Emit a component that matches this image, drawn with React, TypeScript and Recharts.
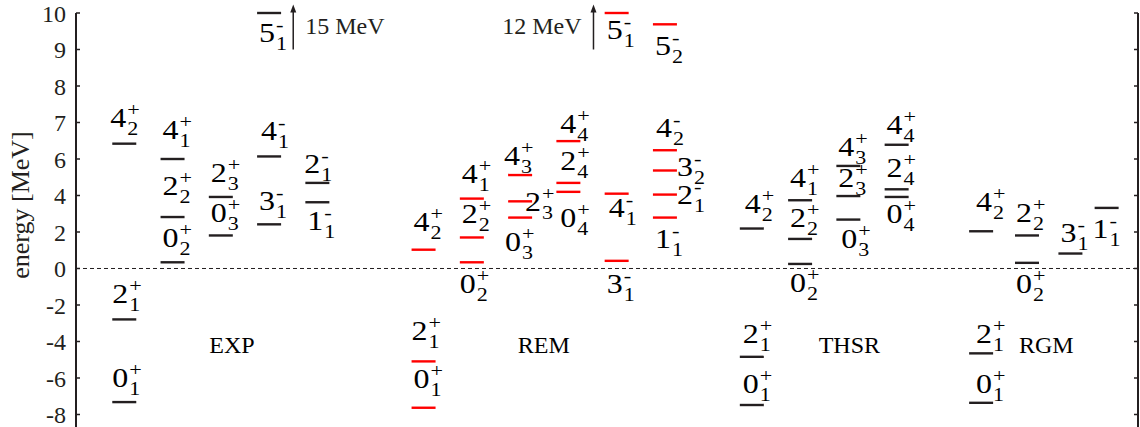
import { ScatterChart, Scatter, XAxis, YAxis, ReferenceLine } from "recharts";

// level tuples: [column index, energy (MeV), spin, index, parity]
type LevelRow = [number, number, string, string, string];

// broken energy axis: 1 MeV per tick above 6 MeV, 2 MeV per tick below
const energyTicks = [10, 9, 8, 7, 6, 4, 2, 0, -2, -4, -6, -8];
const axisTop = 10;

const expColumns = [1, 2, 3, 4, 5];
const expLevels: LevelRow[] = [
  [0, 6.42, "4", "2", "+"],
  [0, -2.79, "2", "1", "+"],
  [0, -7.32, "0", "1", "+"],
  [1, 6.0, "4", "1", "+"],
  [1, 2.82, "2", "2", "+"],
  [1, 0.34, "0", "2", "+"],
  [2, 3.92, "2", "3", "+"],
  [2, 1.81, "0", "3", "+"],
  [3, 15, "5", "1", "-"],
  [3, 6.07, "4", "1", "-"],
  [3, 2.42, "3", "1", "-"],
  [4, 4.69, "2", "1", "-"],
  [4, 3.63, "1", "1", "-"],
];

const remColumns = [7.2, 8.2, 9.2, 10.2, 11.2, 12.2];
const remLevels: LevelRow[] = [
  [0, 1.03, "4", "2", "+"],
  [0, -5.09, "2", "1", "+"],
  [0, -7.63, "0", "1", "+"],
  [1, 3.83, "4", "1", "+"],
  [1, 1.7, "2", "2", "+"],
  [1, 0.34, "0", "2", "+"],
  [2, 5.12, "4", "3", "+"],
  [2, 3.68, "2", "3", "+"],
  [2, 2.79, "0", "3", "+"],
  [3, 6.49, "4", "4", "+"],
  [3, 4.69, "2", "4", "+"],
  [3, 4.2, "0", "4", "+"],
  [4, 12, "5", "1", "-"],
  [4, 4.1, "4", "1", "-"],
  [4, 0.42, "3", "1", "-"],
  [5, 9.69, "5", "2", "-"],
  [5, 6.24, "4", "2", "-"],
  [5, 5.37, "3", "2", "-"],
  [5, 4.05, "2", "1", "-"],
  [5, 2.79, "1", "1", "-"],
];

const thsrColumns = [14, 15, 16, 17];
const thsrLevels: LevelRow[] = [
  [0, 2.19, "4", "2", "+"],
  [0, -4.84, "2", "1", "+"],
  [0, -7.48, "0", "1", "+"],
  [1, 3.74, "4", "1", "+"],
  [1, 1.62, "2", "2", "+"],
  [1, 0.25, "0", "2", "+"],
  [2, 5.62, "4", "3", "+"],
  [2, 3.97, "2", "3", "+"],
  [2, 2.68, "0", "3", "+"],
  [3, 6.39, "4", "4", "+"],
  [3, 4.34, "2", "4", "+"],
  [3, 3.92, "0", "4", "+"],
];

const rgmColumns = [18.75, 19.7, 20.6, 21.35];
const rgmLevels: LevelRow[] = [
  [0, 2.04, "4", "2", "+"],
  [0, -4.65, "2", "1", "+"],
  [0, -7.36, "0", "1", "+"],
  [1, 1.81, "2", "2", "+"],
  [1, 0.31, "0", "2", "+"],
  [2, 0.82, "3", "1", "-"],
  [3, 3.32, "1", "1", "-"],
];

const groupNames = ["EXP", "REM", "THSR", "RGM"];
const groupNameX = [3.23, 9.69, 16.02, 20.1];

// levels above the axis top, marked with an arrow
const offScaleText = ["15 MeV", "12 MeV"];
const offScaleX = [4.5, 10.72];

// label placement (default: above the level)
const labelsBelow = [
  "EXP:5-1", "EXP:1-1",
  "REM:0+2", "REM:0+3", "REM:0+4", "REM:5-1", "REM:4-1", "REM:3-1", "REM:5-2", "REM:1-1",
  "THSR:0+2", "THSR:0+3", "THSR:0+4",
  "RGM:0+2", "RGM:1-1",
];
const labelsRight = ["REM:2+3", "REM:3-2", "REM:2-1"];
// small [dx, dy] nudges of individual labels
const labelShift: Record<string, [number, number]> = {
  "EXP:4+2": [-4, -3], "EXP:2+1": [-2, -2], "EXP:0+1": [-2, -1], "EXP:4+1": [0, -6],
  "EXP:2+2": [0, -8], "EXP:0+2": [0, -1], "EXP:2+3": [0, -1], "EXP:0+3": [0, 1],
  "EXP:5-1": [0, -1], "EXP:4-1": [2, -2], "EXP:2-1": [-3, 4], "EXP:1-1": [0, -2],
  "REM:4+2": [0, -5], "REM:2+1": [-2, -7], "REM:0+1": [0, -6], "REM:4+1": [0, -2],
  "REM:0+2": [-2, 1], "REM:4+3": [-6, 4], "REM:2+3": [-7, 1], "REM:0+3": [-5, 3],
  "REM:4+4": [2, 6], "REM:2+4": [2, 1], "REM:0+4": [2, 5], "REM:5-1": [0, -4],
  "REM:4-1": [2, -7], "REM:3-1": [0, 2], "REM:5-2": [0, 1], "REM:4-2": [1, 1], "REM:3-2": [0, -3],
  "THSR:4+2": [3, -2], "THSR:2+1": [1, 0], "THSR:0+1": [1, 2], "THSR:4+1": [0, 1],
  "THSR:2+2": [0, 2], "THSR:0+2": [0, -2], "THSR:4+3": [0, 4], "THSR:2+3": [0, 5],
  "THSR:0+3": [3, -2], "THSR:4+4": [0, 3], "THSR:2+4": [0, 2], "THSR:0+4": [0, -4],
  "RGM:4+2": [5, -6], "RGM:2+1": [5, 4], "RGM:0+1": [5, 4], "RGM:2+2": [-1, 1],
  "RGM:0+2": [-1, 0], "RGM:3-1": [0, 2], "RGM:1-1": [-4, 0],
};

const BLACK = "#231f20";
const RED = "#ff0000";
const FONT = "'Liberation Serif', 'Times New Roman', serif";

const toAxis = (e: number) => (e <= 6 ? e / 2 : e - 3);
const fromAxis = (v: number) => Math.round(v <= 3 ? v * 2 : v + 3);

const build = (name: string, columns: number[], rows: LevelRow[], color: string) =>
  rows.map(([c, e, j, n, p]) => {
    const key = `${name}:${j}${p}${n}`;
    const place = labelsBelow.includes(key) ? "below" : labelsRight.includes(key) ? "right" : "above";
    const [dx, dy] = labelShift[key] ?? [0, 0];
    return { x: columns[c], y: toAxis(Math.min(e, axisTop)), energy: e, j, n, p, color, place, dx, dy };
  });

const expData = build("EXP", expColumns, expLevels, BLACK);
const remData = build("REM", remColumns, remLevels, RED);
const thsrData = build("THSR", thsrColumns, thsrLevels, BLACK);
const rgmData = build("RGM", rgmColumns, rgmLevels, BLACK);
const groupData = groupNames.map((name, i) => ({ x: groupNameX[i], y: toAxis(-4.65), name }));
const noteData = offScaleText.map((text, i) => ({ x: offScaleX[i], y: toAxis(9), text, side: i === 0 ? 1 : -1 }));

const LevelMark = (props: any) => {
  const { cx, cy, payload } = props;
  const { color, j, n, p, place, dx, dy } = payload;
  let mx = cx + 7;
  let base = cy - 14;
  if (place === "below") base = cy + 30;
  if (place === "right") {
    mx = cx + 29;
    base = cy + 9;
  }
  mx += dx;
  base += dy;
  // the figure's labels are a little wide, so glyphs get stretched with textLength
  return (
    <g fontFamily={FONT} fill="#000">
      <line x1={cx - 12} x2={cx + 12} y1={cy} y2={cy} stroke={color} strokeWidth={2.4} />
      <text x={mx - 17} y={base} fontSize={27} textLength={16} lengthAdjust="spacingAndGlyphs">{j}</text>
      <text x={mx} y={base - 11} fontSize={19} textLength={p === "+" ? 12.5 : 7.5}
        lengthAdjust="spacingAndGlyphs">{p}</text>
      <text x={mx} y={base + 8} fontSize={19} textLength={11} lengthAdjust="spacingAndGlyphs">{n}</text>
    </g>
  );
};

const GroupName = (props: any) => (
  <text x={props.cx} y={props.cy} textAnchor="middle" fontSize={24} fontFamily={FONT} fill="#000">
    {props.payload.name}
  </text>
);

const OffScaleNote = (props: any) => {
  const { cx, cy, payload } = props;
  const tip = cy - 45;
  return (
    <g>
      <line x1={cx} x2={cx} y1={cy} y2={tip + 6} stroke={BLACK} strokeWidth={1.5} />
      <path d={`M${cx},${tip} L${cx - 3},${tip + 8} L${cx + 3},${tip + 8} Z`} fill={BLACK} />
      <text x={cx + payload.side * 12} y={cy - 15} textAnchor={payload.side > 0 ? "start" : "end"}
        fontSize={24} fontFamily={FONT} fill={BLACK}>{payload.text}</text>
    </g>
  );
};

const AxisTitle = () => (
  <text transform="translate(29,205) rotate(-90)" textAnchor="middle" fontSize={26} fontFamily={FONT} fill={BLACK}>
    energy [MeV]
  </text>
);

export default function App() {
  const tickPos = energyTicks.map(toAxis);
  const domain: [number, number] = [-4.37, 7];
  return (
    <div style={{ position: "absolute", left: 0, top: 0, background: "#fff" }}>
      <ScatterChart width={1140} height={428} margin={{ top: 13, right: 0, bottom: 0, left: 0 }}>
        <XAxis type="number" dataKey="x" domain={[0, 22]} hide />
        <YAxis yAxisId="l" type="number" dataKey="y" domain={domain} ticks={tickPos} interval={0}
          tickFormatter={fromAxis} width={76} tickSize={-4} tickMargin={14}
          axisLine={{ stroke: BLACK, strokeWidth: 2 }} tickLine={{ stroke: BLACK, strokeWidth: 1.5 }}
          tick={{ fill: BLACK, fontSize: 24, fontFamily: FONT }} label={AxisTitle} />
        <YAxis yAxisId="r" orientation="right" type="number" dataKey="y" domain={domain} ticks={tickPos}
          interval={0} tickFormatter={() => ""} width={2} tickSize={-4} tickMargin={0}
          axisLine={{ stroke: BLACK, strokeWidth: 2 }} tickLine={{ stroke: BLACK, strokeWidth: 1.5 }} />
        <ReferenceLine yAxisId="l" y={0} stroke={BLACK} strokeWidth={1} strokeDasharray="4 3" />
        <Scatter yAxisId="l" data={expData} shape={LevelMark} isAnimationActive={false} />
        <Scatter yAxisId="l" data={remData} shape={LevelMark} isAnimationActive={false} />
        <Scatter yAxisId="l" data={thsrData} shape={LevelMark} isAnimationActive={false} />
        <Scatter yAxisId="l" data={rgmData} shape={LevelMark} isAnimationActive={false} />
        <Scatter yAxisId="r" data={groupData} shape={GroupName} isAnimationActive={false} />
        <Scatter yAxisId="l" data={noteData} shape={OffScaleNote} isAnimationActive={false} />
      </ScatterChart>
    </div>
  );
}
